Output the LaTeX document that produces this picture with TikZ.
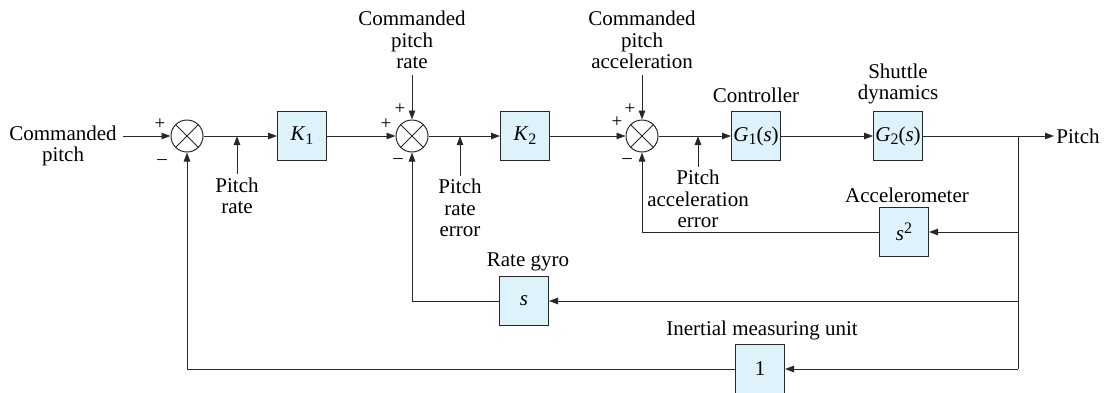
\documentclass[tikz,border=0pt]{standalone}
\usepackage{fontspec}
\setmainfont{Liberation Serif}
\usetikzlibrary{arrows.meta}
\definecolor{boxblue}{RGB}{222,242,251}
\definecolor{linegray}{RGB}{40,40,40}
\newcommand\lo[1]{\raisebox{-0.4ex}{\fontsize{16}{16}\selectfont #1}}
\newcommand\hi[1]{\raisebox{0.75ex}{\fontsize{16}{16}\selectfont #1}}
\begin{document}
\begin{tikzpicture}[x=1pt,y=-1pt,
  font=\fontsize{21}{21.5}\selectfont,
  color=linegray, text=black,
  every path/.style={line width=0.9pt},
  blk/.style={draw=linegray, fill=boxblue, minimum width=49pt, minimum height=49pt, inner sep=0pt, line width=1pt},
  sumj/.style={circle, draw=linegray, minimum size=32pt, inner sep=0pt, line width=1pt,
    path picture={\draw[line width=1pt] (path picture bounding box.north east) -- (path picture bounding box.south west)
      (path picture bounding box.north west) -- (path picture bounding box.south east);}},
  lbl/.style={align=center, inner sep=0pt},
  sg/.style={inner sep=0pt, font=\fontsize{19}{19}\selectfont},
  ar/.style={-{Triangle[length=9pt,width=6.5pt]}}]
\useasboundingbox (0,0) rectangle (1107,392);

% summing junctions
\node[sumj] (s1) at (187,136) {};
\node[sumj] (s2) at (412,136) {};
\node[sumj] (s3) at (642,136) {};

% blocks
\node[blk] (k1) at (302,136) {\textit{K}\lo{1}};
\node[blk] (k2) at (525,136) {\textit{K}\lo{2}};
\node[blk] (g1) at (756,136) {\textit{G}\lo{1}(\textit{s})};
\node[blk] (g2) at (898,136) {\textit{G}\lo{2}(\textit{s})};
\node[blk] (acc) at (904,232) {\textit{s}\hi{2}};
\node[blk] (gyro) at (524,301) {\textit{s}};
\node[blk] (imu) at (760,369) {1};

% labels
\node[lbl] (cp) at (63,146) {Commanded\\pitch};
\node[lbl] (pr) at (237,196) {Pitch\\rate};
\node[lbl] (cpr) at (412,40) {Commanded\\pitch\\rate};
\node[lbl] (pre) at (460,208) {Pitch\\rate\\error};
\node[lbl] (cpa) at (642,40) {Commanded\\pitch\\acceleration};
\node[lbl] (pae) at (698,199) {Pitch\\acceleration\\error};
\node[lbl] (ctl) at (756,95) {Controller};
\node[lbl] (shd) at (898,84) {Shuttle\\dynamics};
\node[lbl] (acl) at (907,195) {Accelerometer};
\node[lbl] (rgl) at (528,262) {Rate gyro};
\node[lbl] (iml) at (762,330) {Inertial measuring unit};
\node[lbl, anchor=west] (pout) at (1056,136) {Pitch};

% signs
\node[sg] at (160,124) {+};
\node[sg] at (162,162) {\textendash};
\node[sg] at (400,109) {+};
\node[sg] at (386,124) {+};
\node[sg] at (398,161) {\textendash};
\node[sg] at (630,109) {+};
\node[sg] at (617,122) {+};
\node[sg] at (627,161) {\textendash};

% coordinates
\coordinate (in1) at (123,136);
\coordinate (br) at (1018,136);
\coordinate (out) at (1054,136);
\coordinate (b2) at (1018,232);
\coordinate (b3) at (1018,301);
\coordinate (b4) at (1018,369);

% forward path
\draw[ar] (in1) -- (s1.west);
\draw[ar] (s1.east) -- (k1.west);
\draw[ar] (k1.east) -- (s2.west);
\draw[ar] (s2.east) -- (k2.west);
\draw[ar] (k2.east) -- (s3.west);
\draw[ar] (s3.east) -- (g1.west);
\draw[ar] (g1.east) -- (g2.west);
\draw[ar] (g2.east) -- (out);

% reference inputs
\draw[ar] ([yshift=-6pt]cpr.south) -- (s2.north);
\draw[ar] ([yshift=-6pt]cpa.south) -- (s3.north);

% signal markers
\draw[ar] ([yshift=3pt]pr.north) -- (pr.north |- s1);
\draw[ar] ([yshift=3pt]pre.north) -- (pre.north |- s2);
\draw[ar] ([yshift=3pt]pae.north) -- (pae.north |- s3);

% feedback
\draw (br) -- (b4);
\draw[ar] (b2) -- (acc.east);
\draw[ar] (b3) -- (gyro.east);
\draw[ar] (b4) -- (imu.east);
\draw[ar] (acc.west) -| (s3.south);
\draw[ar] (gyro.west) -| (s2.south);
\draw[ar] (imu.west) -| (s1.south);
\end{tikzpicture}
\end{document}
